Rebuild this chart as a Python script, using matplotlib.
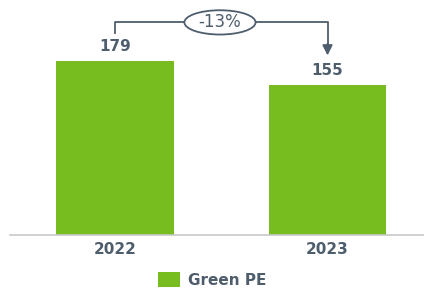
import matplotlib
matplotlib.use("Agg")
import matplotlib.pyplot as plt
from matplotlib.patches import Ellipse, Patch

# Data
years = ["2022", "2023"]
values = [179, 155]
series_name = "Green PE"
change_label = "-13%"

GREEN = "#78BD20"
TEXT = "#4E5D6C"
AXIS = "#C8C8C8"

fig = plt.figure(figsize=(4.24, 2.93), dpi=100)
fig.patch.set_facecolor("white")
ax = fig.add_axes([10 / 424, 58 / 293, 1 - 10 / 424, 233 / 293])

x = list(range(len(years)))
ax.bar(x, values, width=0.555, color=GREEN, zorder=2)

ax.set_xlim(-0.494, 1.454)
ax.set_ylim(0, 240)

# value labels
for xi, v in zip(x, values):
    ax.text(xi, v + 7, str(v), ha="center", va="bottom", fontsize=11,
            fontweight="bold", color=TEXT)

# axis styling
for s in ["top", "right", "left"]:
    ax.spines[s].set_visible(False)
ax.spines["bottom"].set_color(AXIS)
ax.spines["bottom"].set_linewidth(1.2)
ax.set_yticks([])
ax.set_xticks(x)
ax.set_xticklabels(years, fontsize=11, fontweight="bold", color=TEXT)
ax.tick_params(axis="x", length=0, pad=5)

# change bracket
top = max(values) + 40
ax.plot([x[0], x[0], x[1], x[1]], [values[0] + 29, top, top, values[1] + 40],
        color=TEXT, lw=1.3, clip_on=False, zorder=3)
ax.annotate("", xy=(x[1], values[1] + 30), xytext=(x[1], values[1] + 42),
            arrowprops=dict(arrowstyle="-|>", color=TEXT, lw=1.3,
                            mutation_scale=15, shrinkA=0, shrinkB=0),
            annotation_clip=False)
ell = Ellipse((0.494, top), 0.335, 25, facecolor="white", edgecolor=TEXT,
              lw=1.3, clip_on=False, zorder=4)
ax.add_patch(ell)
ax.text(0.494, top, change_label, ha="center", va="center", fontsize=12,
        color=TEXT, zorder=5)

# legend
handle = Patch(facecolor=GREEN, edgecolor="none", label=series_name)
fig.legend(handles=[handle], loc="center", bbox_to_anchor=(0.5, 13 / 293),
           frameon=False, prop=dict(size=11, weight="bold"),
           labelcolor=TEXT, handlelength=1.5, handleheight=1.1,
           handletextpad=0.5)

fig.savefig("out.png", dpi=100, facecolor="white")
